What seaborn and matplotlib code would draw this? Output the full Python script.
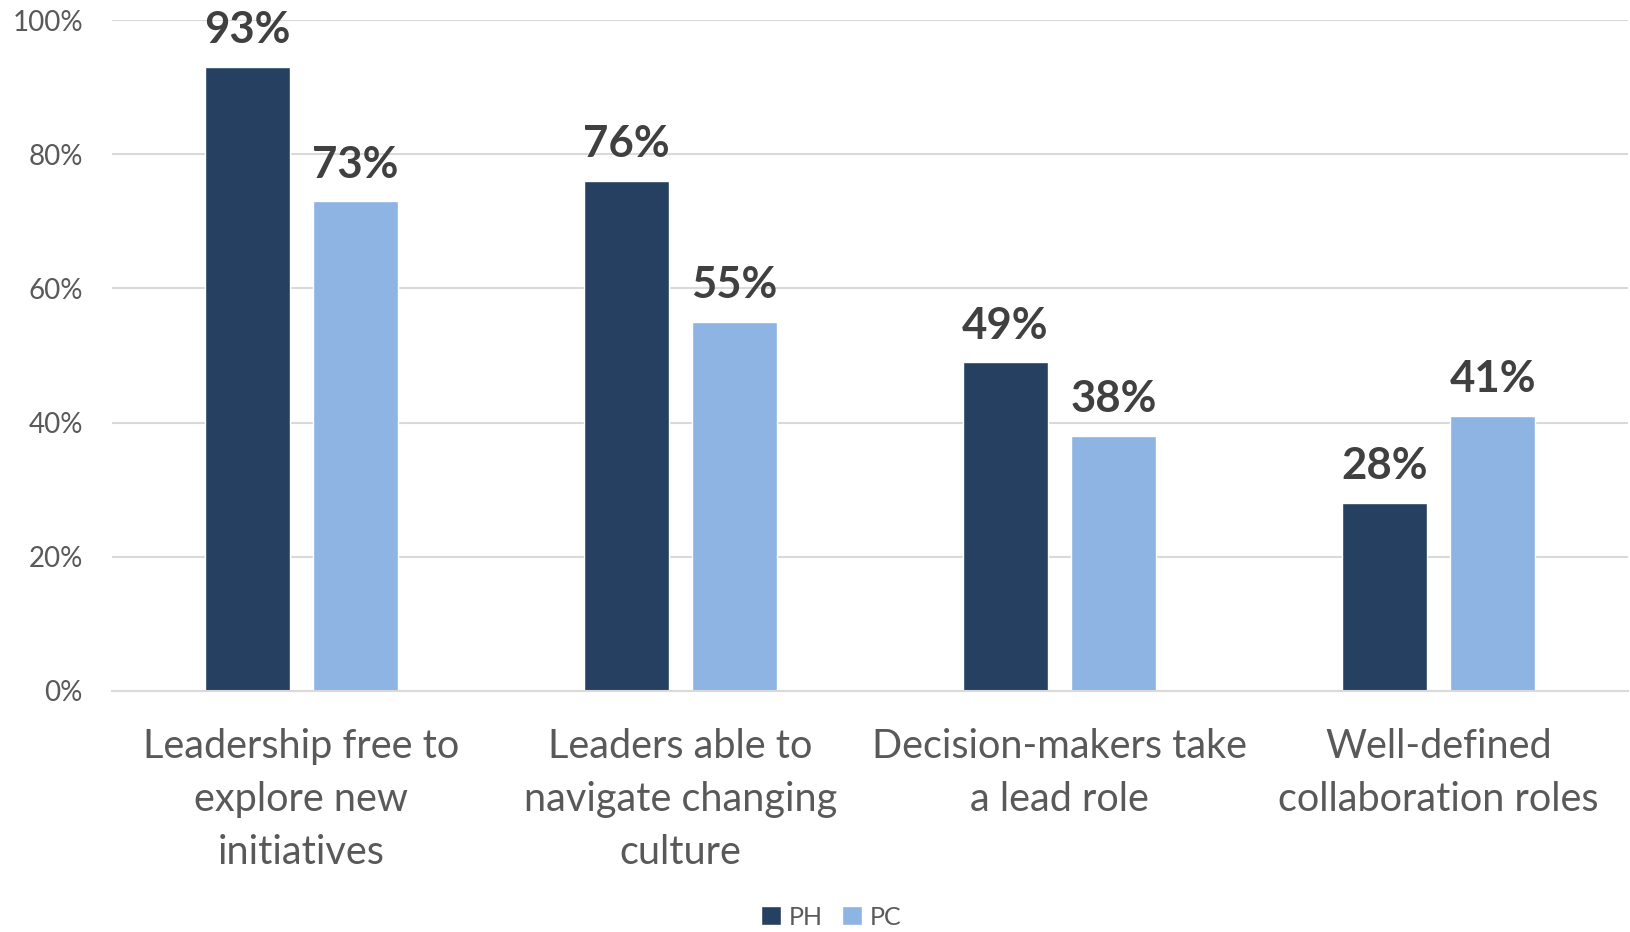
import matplotlib
matplotlib.use("Agg")
import matplotlib.pyplot as plt
import seaborn as sns
import pandas as pd

categories = [
    "Leadership free to\nexplore new\ninitiatives",
    "Leaders able to\nnavigate changing\nculture",
    "Decision-makers take\na lead role",
    "Well-defined\ncollaboration roles",
]
series_names = ["PH", "PC"]
ph_values = [93, 76, 49, 28]
pc_values = [73, 55, 38, 41]
y_ticks = [0, 20, 40, 60, 80, 100]
y_tick_labels = ["0%", "20%", "40%", "60%", "80%", "100%"]

colors = {"PH": "#264061", "PC": "#8EB4E3"}

df = pd.DataFrame({
    "category": categories * 2,
    "series": ["PH"] * len(categories) + ["PC"] * len(categories),
    "value": ph_values + pc_values,
})

sns.set_theme(style="white")
plt.rcParams["font.family"] = ["Lato", "DejaVu Sans"]

fig = plt.figure(figsize=(16.3, 9.32), dpi=100)
ax = fig.add_axes([0.0687, 0.2586, 0.9300, 0.7199])

sns.barplot(
    data=df, x="category", y="value", hue="series",
    hue_order=series_names, order=categories, palette=colors,
    width=0.572, gap=0.217, saturation=1, ax=ax, legend=True,
)

ax.set_ylim(0, 100)
ax.set_xlim(-0.5, len(categories) - 0.5)
ax.set_yticks(y_ticks)
ax.set_yticklabels(y_tick_labels)
ax.yaxis.grid(True, color="#D9D9D9", linewidth=1.5)
ax.set_axisbelow(True)
for side in ["top", "right", "left"]:
    ax.spines[side].set_visible(False)
ax.spines["bottom"].set_color("#D9D9D9")
ax.spines["bottom"].set_linewidth(1.5)
ax.set_xlabel("")
ax.set_ylabel("")
ax.tick_params(axis="y", length=0, pad=21, labelsize=20, labelcolor="#595959")
ax.tick_params(axis="x", length=0, pad=27, labelsize=28.5, labelcolor="#595959")
for lbl in ax.get_xticklabels():
    lbl.set_linespacing(1.52)

for container in ax.containers:
    ax.bar_label(container, fmt="%d%%", padding=12, fontsize=31.5,
                 fontweight="bold", color="#404040")

leg = ax.get_legend()
handles = leg.legend_handles
leg.remove()
fig.legend(handles, series_names, loc="center", bbox_to_anchor=(0.51, 0.016),
           ncol=2, frameon=False, fontsize=18, labelcolor="#595959",
           handlelength=0.8, handleheight=0.8, handletextpad=0.3,
           columnspacing=0.8)

fig.savefig("out.png", dpi=100)
